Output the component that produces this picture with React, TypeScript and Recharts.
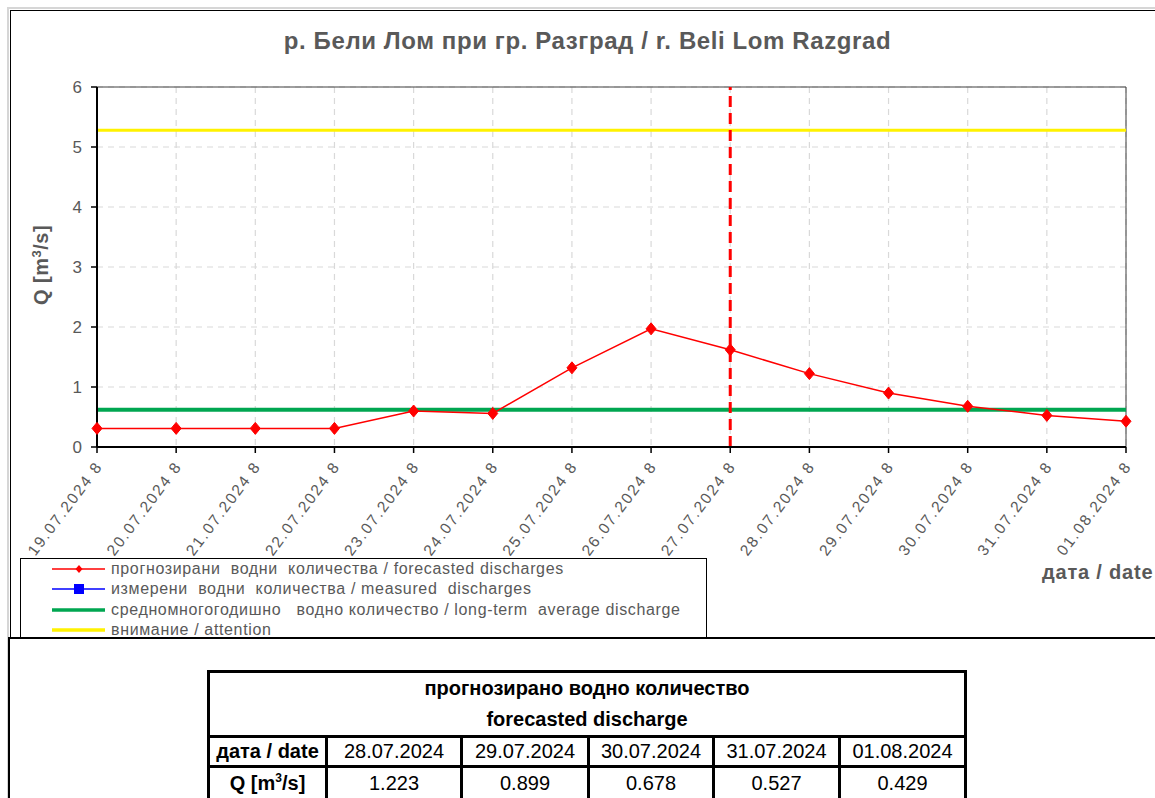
import React from "react";
import { LineChart, Line, XAxis, YAxis, CartesianGrid, ReferenceLine } from "recharts";

const categories = [
  "19.07.2024 8", "20.07.2024 8", "21.07.2024 8", "22.07.2024 8", "23.07.2024 8",
  "24.07.2024 8", "25.07.2024 8", "26.07.2024 8", "27.07.2024 8", "28.07.2024 8",
  "29.07.2024 8", "30.07.2024 8", "31.07.2024 8", "01.08.2024 8",
];
const forecast = [0.31, 0.31, 0.31, 0.31, 0.6, 0.56, 1.32, 1.97, 1.62, 1.223, 0.899, 0.678, 0.527, 0.429];
const measured: (number | null)[] = [null, null, null, null, null, null, null, null, null, null, null, null, null, null];
const yTicks = [0, 1, 2, 3, 4, 5, 6];
const LONG_TERM_AVG = 0.62;
const ATTENTION = 5.28;
const FORECAST_START = "27.07.2024 8";

const tableDates = ["28.07.2024", "29.07.2024", "30.07.2024", "31.07.2024", "01.08.2024"];
const tableValues = ["1.223", "0.899", "0.678", "0.527", "0.429"];

const legendItems = [
  { label: "прогнозирани  водни  количества / forecasted discharges", color: "#ff0000", width: 1.5, marker: "diamond" },
  { label: "измерени  водни  количества / measured  discharges", color: "#0000ff", width: 1.5, marker: "square" },
  { label: "средномногогодишно   водно количество / long-term  average discharge", color: "#00a651", width: 3.5, marker: "" },
  { label: "внимание / attention", color: "#fff200", width: 3.5, marker: "" },
];

const data = categories.map((c, i) => ({ date: c, forecast: forecast[i], measured: measured[i] }));

const FONT = "'Liberation Sans', Arial, sans-serif";
const GRAY = "#595959";

const Diamond = (props: any) => {
  const { cx, cy } = props;
  if (cx == null || cy == null) return null;
  return <polygon points={`${cx},${cy - 6} ${cx + 5},${cy} ${cx},${cy + 6} ${cx - 5},${cy}`} fill="#ff0000" stroke="#ff0000" />;
};

const XTick = (props: any) => {
  const { x, y, payload } = props;
  return (
    <g transform={`translate(${x + 2},${y + 8})`}>
      <text
        x={0}
        y={0}
        transform="rotate(-53)"
        textAnchor="end"
        dominantBaseline="central"
        fill={GRAY}
        fontSize={15.5}
        fontFamily={FONT}
        letterSpacing={1.9}
      >
        {payload.value}
      </text>
    </g>
  );
};

export default function App() {
  return (
    <div style={{ position: "absolute", left: 0, top: 0, width: 1155, height: 798, overflow: "hidden", background: "#fff", fontFamily: FONT }}>
      {/* outer frame */}
      <div style={{ position: "absolute", left: 7, top: 7, width: 1300, height: 800, borderTop: "2px solid #d6d6d6", borderLeft: "2px solid #d6d6d6" }} />
      <div style={{ position: "absolute", left: 10, top: 10, width: 1300, height: 800, borderTop: "1.5px solid #000", borderLeft: "1.5px solid #000" }} />

      {/* title */}
      <div style={{ position: "absolute", left: 0, top: 27, width: 1175, textAlign: "center", fontSize: 24, fontWeight: "bold", color: GRAY, letterSpacing: 0.6, whiteSpace: "nowrap" }}>
        р. Бели Лом при гр. Разград / r. Beli Lom Razgrad
      </div>

      <div style={{ position: "absolute", left: 0, top: 0 }}>
        <LineChart width={1155} height={640} data={data} margin={{ top: 87, right: 29, left: 37, bottom: 93 }}>
          <CartesianGrid stroke="#d9d9d9" strokeDasharray="6 5" strokeWidth={1.2} />
          <XAxis
            dataKey="date"
            scale="point"
            padding={{ left: 0, right: 0 }}
            interval={0}
            height={100}
            axisLine={{ stroke: "#000", strokeWidth: 2 }}
            tickLine={{ stroke: "#000", strokeWidth: 1.5 }}
            tickSize={6}
            tick={<XTick />}
          />
          <YAxis
            width={60}
            domain={[0, 6]}
            ticks={yTicks}
            interval={0}
            axisLine={{ stroke: "#000", strokeWidth: 2 }}
            tickLine={{ stroke: "#000", strokeWidth: 1.5 }}
            tickSize={6}
            tickMargin={9}
            tick={{ fill: GRAY, fontSize: 17, fontFamily: FONT }}
          />
          <ReferenceLine y={6} stroke="#404040" strokeWidth={1} />
          <ReferenceLine x={categories[categories.length - 1]} stroke="#404040" strokeWidth={1} />
          <ReferenceLine y={ATTENTION} stroke="#fff200" strokeWidth={3} />
          <ReferenceLine y={LONG_TERM_AVG} stroke="#00a651" strokeWidth={4} />
          <ReferenceLine x={FORECAST_START} stroke="#ff0000" strokeWidth={3} strokeDasharray="11 6" />
          <Line dataKey="measured" stroke="#0000ff" strokeWidth={1.5} dot={false} isAnimationActive={false} />
          <Line dataKey="forecast" stroke="#ff0000" strokeWidth={1.5} dot={<Diamond />} activeDot={false} isAnimationActive={false} />
        </LineChart>
      </div>

      {/* y axis title */}
      <div style={{ position: "absolute", left: 41, top: 265, transform: "translate(-50%,-50%) rotate(-90deg)", whiteSpace: "nowrap", fontSize: 20, fontWeight: "bold", color: GRAY, letterSpacing: 0.5 }}>
        Q [m<sup style={{ fontSize: 13 }}>3</sup>/s]
      </div>

      {/* x axis title */}
      <div style={{ position: "absolute", left: 1042, top: 561, whiteSpace: "nowrap", fontSize: 20, fontWeight: "bold", color: GRAY, letterSpacing: 0.8 }}>
        дата / date
      </div>

      {/* legend */}
      <div style={{ position: "absolute", left: 20, top: 558, width: 685, height: 100, border: "1px solid #000", background: "#fff" }}>
        {legendItems.map((it, i) => (
          <div key={i} style={{ position: "absolute", left: 0, top: 0 + i * 20.3, height: 20, width: 680, display: "flex", alignItems: "center" }}>
            <svg width={90} height={20} style={{ flex: "none" }}>
              <line x1={31} x2={84} y1={10} y2={10} stroke={it.color} strokeWidth={it.width} />
              {it.marker === "diamond" && <polygon points="58,6 61.5,10 58,14 54.5,10" fill={it.color} />}
              {it.marker === "square" && <rect x={53} y={5} width={10} height={10} fill={it.color} />}
            </svg>
            <span style={{ fontSize: 16, color: GRAY, letterSpacing: 0.65, whiteSpace: "pre" }}>{it.label}</span>
          </div>
        ))}
      </div>

      {/* lower panel */}
      <div style={{ position: "absolute", left: 8, top: 637, width: 1300, height: 300, borderTop: "2.5px solid #000", borderLeft: "2px solid #000", background: "#fff" }} />

      {/* table */}
      <table style={{ position: "absolute", left: 207, top: 670, borderCollapse: "collapse", border: "3px solid #000", fontSize: 20, color: "#000", fontFamily: FONT, tableLayout: "fixed" }}>
        <colgroup>
          <col style={{ width: 118 }} />
          <col style={{ width: 135 }} />
          <col style={{ width: 127 }} />
          <col style={{ width: 125 }} />
          <col style={{ width: 126 }} />
          <col style={{ width: 126 }} />
        </colgroup>
        <tbody>
          <tr>
            <td colSpan={6} style={{ height: 62, textAlign: "center", fontWeight: "bold", lineHeight: "31px", border: "3px solid #000", padding: 0 }}>
              прогнозирано водно количество
              <br />
              forecasted discharge
            </td>
          </tr>
          <tr>
            <td style={{ height: 27, textAlign: "center", fontWeight: "bold", border: "3px solid #000", padding: 0, whiteSpace: "nowrap" }}>дата / date</td>
            {tableDates.map((d) => (
              <td key={d} style={{ textAlign: "center", border: "3px solid #000", padding: 0 }}>{d}</td>
            ))}
          </tr>
          <tr>
            <td style={{ height: 30, textAlign: "center", fontWeight: "bold", border: "3px solid #000", padding: 0, whiteSpace: "nowrap" }}>
              Q [m<sup style={{ fontSize: 12 }}>3</sup>/s]
            </td>
            {tableValues.map((v, i) => (
              <td key={i} style={{ textAlign: "center", border: "3px solid #000", padding: 0 }}>{v}</td>
            ))}
          </tr>
        </tbody>
      </table>
    </div>
  );
}
